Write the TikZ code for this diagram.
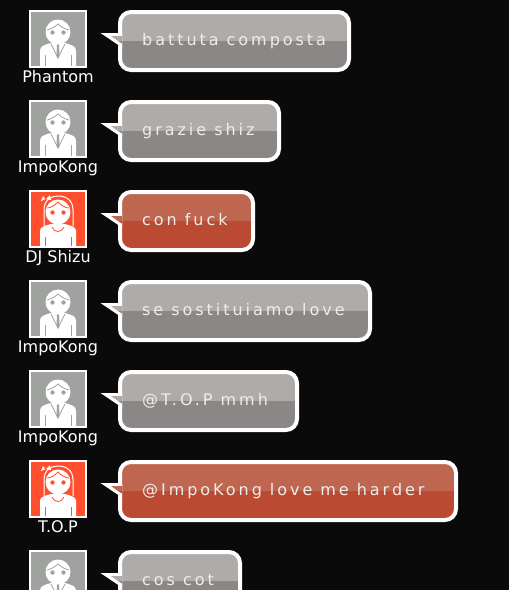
\documentclass[tikz,border=0pt]{standalone}
\usepackage{fontspec}
\setmainfont{DejaVu Sans}
\newfontfamily\msgfont[LetterSpace=18.5]{DejaVu Sans}
\definecolor{pagebg}{HTML}{0A0A0A}
\definecolor{greytop}{HTML}{AFABA9}
\definecolor{greylow}{HTML}{8B8787}
\definecolor{redtop}{HTML}{BF6650}
\definecolor{redlow}{HTML}{BB4A32}
\definecolor{avgrey}{HTML}{A0A2A0}
\definecolor{avred}{HTML}{FF4F2F}
\tikzset{
  bubblebox/.style={rounded corners=11pt,inner sep=0pt,outer sep=0pt,anchor=north west},
  bubbleedge/.style={draw=white,line width=4pt,rounded corners=11pt},
  msgtext/.style={text=white!93!black,font=\msgfont\fontsize{16}{16}\selectfont,anchor=base west,inner sep=0pt},
  usertext/.style={text=white,font=\fontsize{16}{16}\selectfont,anchor=base,inner sep=0pt},
  avatarbox/.style={draw=white,line width=2pt,minimum width=56pt,minimum height=56pt,inner sep=0pt,outer sep=0pt,anchor=north west},
}
% bubble: name, top, right edge, message, top colour, low colour
\newcommand{\bubblerow}[6]{%
  \node[bubblebox,fill=#5,minimum width={#3-120pt-2pt},minimum height=58pt,
    path picture={\fill[#6,sharp corners] ([yshift=-29pt]path picture bounding box.north west) rectangle (path picture bounding box.south east);}]
    (b#1) at (120,#2+2) {};
  \draw[bubbleedge] (b#1.north west) rectangle (b#1.south east);
  \fill[white] (100.5,#2+23) -- (122,#2+23) -- (122,#2+37.5) -- cycle;
  \fill[#5] (111,#2+26) -- (122,#2+26) -- (122,#2+31) -- (118,#2+31) -- cycle;
  \fill[#6] (118,#2+31) -- (122,#2+31) -- (122,#2+33.5) -- cycle;
  \node[msgtext] (m#1) at (142,#2+35.5) {#4};
}
% male avatar at top-left corner
\newcommand{\manavatar}[2]{%
  \node[avatarbox,fill=avgrey] (a#1) at (30,#2+1) {};
  \begin{scope}[shift={(29,#2)}]
    \clip (2,2) rectangle (56,56);
    \fill[white] (11,57) -- (11,41) .. controls (11,36) and (15,35) .. (22,33) -- (36,33) .. controls (43,35) and (47,36) .. (47,41) -- (47,57) -- cycle;
    \draw[avgrey,line width=.7pt] (22,34) -- (28,46) (36,34) -- (30,46);
    \fill[avgrey] (28,34) -- (30,34) -- (30.5,46) -- (29,49) -- (27.5,46) -- cycle;
    \draw[avgrey,line width=1pt] (16,45) -- (16,56) (42,45) -- (42,56);
    \fill[white] (29,22) circle (12.5);
    \draw[avgrey,line width=.8pt] (18,20) .. controls (22,19) and (26,17) .. (29,14) .. controls (32,17) and (36,19) .. (40,20);
    \fill[avgrey] (23.5,22.5) circle (2.2) (34.5,22.5) circle (2.2);
  \end{scope}
}
% female avatar
\newcommand{\girlavatar}[2]{%
  \node[avatarbox,fill=avred] (a#1) at (30,#2+1) {};
  \begin{scope}[shift={(29,#2)}]
    \clip (2,2) rectangle (56,56);
    \draw[white,line width=1pt] (15,36) -- (15,20) .. controls (15,10) and (22,6) .. (29,6) .. controls (37,6) and (44,10) .. (44,20) -- (44,36);
    \fill[white] (11,57) -- (11,41) .. controls (11,37) and (15,36) .. (22,34) -- (36,34) .. controls (43,36) and (47,37) .. (47,41) -- (47,57) -- cycle;
    \draw[avred,line width=.8pt] (23,37) .. controls (25,43) and (33,43) .. (35,37);
    \draw[avred,line width=.8pt] (16,47) -- (16,56) (42,47) -- (42,56);
    \fill[white] (29,22) circle (12.5);
    \draw[avred,line width=.8pt] (18,18) .. controls (22,18) and (26,15) .. (29,12) .. controls (32,15) and (36,18) .. (40,18);
    \fill[avred] (23.5,22.5) circle (2.2) (34.5,22.5) circle (2.2);
    \fill[white] (17,9) -- (12,11) -- (14,6) -- cycle (17,9) -- (21,5) -- (22,10) -- cycle;
    \fill[avred] (16.3,8.6) circle (.9);
  \end{scope}
}
\begin{document}
\begin{tikzpicture}[x=1pt,y=-1pt]
\useasboundingbox (0,0) rectangle (509,590);
\fill[pagebg] (0,0) rectangle (509,590);
\clip (0,0) rectangle (509,590);
\manavatar{1}{10}
\node[usertext] (u1) at (58,82.5) {Phantom};
\bubblerow{1}{10}{351}{battuta composta}{greytop}{greylow}
\manavatar{2}{100}
\node[usertext] (u2) at (58,172.5) {ImpoKong};
\bubblerow{2}{100}{281}{grazie shiz}{greytop}{greylow}
\girlavatar{3}{190}
\node[usertext] (u3) at (58,262.5) {DJ Shizu};
\bubblerow{3}{190}{255}{con fuck}{redtop}{redlow}
\manavatar{4}{280}
\node[usertext] (u4) at (58,352.5) {ImpoKong};
\bubblerow{4}{280}{372}{se sostituiamo love}{greytop}{greylow}
\manavatar{5}{370}
\node[usertext] (u5) at (58,442.5) {ImpoKong};
\bubblerow{5}{370}{299}{@T.O.P mmh}{greytop}{greylow}
\girlavatar{6}{460}
\node[usertext] (u6) at (58,532.5) {T.O.P};
\bubblerow{6}{460}{458}{@ImpoKong love me harder}{redtop}{redlow}
\manavatar{7}{550}
\bubblerow{7}{550}{242}{cos cot}{greytop}{greylow}
\end{tikzpicture}
\end{document}
